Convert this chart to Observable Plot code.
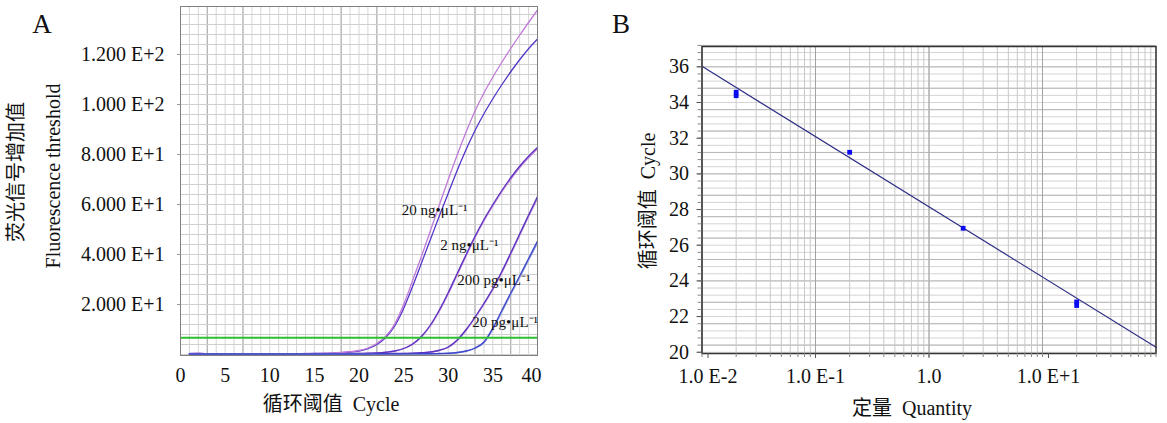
<!DOCTYPE html>
<html><head><meta charset="utf-8">
<script src="https://cdn.jsdelivr.net/npm/d3@7"></script>
<script src="https://cdn.jsdelivr.net/npm/@observablehq/plot@0.6"></script>
<style>
body{margin:0;background:#fff;}
#wrap{position:relative;width:1167px;height:423px;overflow:hidden;font-family:"Liberation Serif","Noto Sans CJK SC",serif;color:#111;}
#wrap svg{position:absolute;top:0;}
.t{position:absolute;white-space:pre;line-height:1;transform:translate(-50%,-50%);}
.r{position:absolute;white-space:pre;line-height:1;transform:translate(-50%,-50%) rotate(-90deg);}
</style></head><body><div id="wrap"></div>
<script>
// ---------- Panel A data ----------
const cycles = [1,2,3,4,5,6,7,8,9,10,11,12,13,14,15,16,17,18,19,20,21,22,23,24,25,26,27,28,29,30,31,32,33,34,35,36,37,38,39,40];
const ng20a = [0.4,0.5,0.3,0.3,0.2,0.2,0.2,0.2,0.2,0.3, 0.3,0.3,0.3,0.4,0.4,0.5,0.6,0.8,1.1,1.6, 2.6,4.4,7.3,12.2,20.0,29.5,39.3,49.5,59.8,70.0, 79.8,89.0,97.4,104.6,111.0,116.9,122.4,127.7,132.8,137.8];
const ng20b = [0.3,0.4,0.3,0.2,0.2,0.2,0.2,0.2,0.3,0.3, 0.3,0.3,0.3,0.3,0.4,0.4,0.5,0.7,1.0,1.4, 2.3,4.0,6.8,11.4,18.4,27.2,36.6,46.0,55.4,64.5, 73.6,82.0,89.6,96.3,102.3,107.9,113.1,117.9,122.3,126.2];
const ng2a  = [0.3,0.3,0.2,0.2,0.2,0.2,0.2,0.2,0.2,0.2, 0.2,0.2,0.2,0.3,0.3,0.3,0.3,0.3,0.4,0.4, 0.5,0.6,0.9,1.4,2.4,4.2,7.3,11.8,17.8,24.8, 32.4,40.0,47.3,54.0,60.0,65.6,70.7,75.3,79.3,82.8];
const ng2b  = [0.2,0.3,0.2,0.2,0.2,0.2,0.2,0.2,0.2,0.2, 0.2,0.2,0.2,0.2,0.3,0.3,0.3,0.3,0.3,0.4, 0.5,0.6,0.8,1.3,2.3,4.0,7.0,11.4,17.3,24.2, 31.8,39.4,46.7,53.4,59.4,65.0,70.1,74.7,78.7,82.2];
const pg200a= [0.2,0.2,0.2,0.2,0.2,0.2,0.2,0.2,0.2,0.2, 0.2,0.2,0.2,0.2,0.2,0.2,0.3,0.3,0.3,0.3, 0.3,0.3,0.3,0.4,0.4,0.5,0.7,1.0,1.7,3.0, 5.8,10.0,15.0,20.5,26.4,33.2,40.6,48.2,55.8,63.2];
const pg200b= [0.2,0.2,0.2,0.2,0.2,0.2,0.2,0.2,0.2,0.2, 0.2,0.2,0.2,0.2,0.2,0.2,0.2,0.3,0.3,0.3, 0.3,0.3,0.3,0.3,0.4,0.5,0.6,0.9,1.6,2.8, 5.5,9.6,14.6,20.0,25.9,32.6,40.0,47.6,55.1,62.4];
const pg20a = [0.2,0.2,0.2,0.2,0.2,0.2,0.2,0.2,0.2,0.2, 0.2,0.2,0.2,0.2,0.2,0.2,0.2,0.2,0.2,0.2, 0.2,0.3,0.3,0.3,0.3,0.3,0.3,0.3,0.4,0.5, 0.8,1.4,2.6,5.0,10.6,17.6,24.6,31.4,38.4,45.4];
const pg20b = [0.2,0.2,0.2,0.2,0.2,0.2,0.2,0.2,0.2,0.2, 0.2,0.2,0.2,0.2,0.2,0.2,0.2,0.2,0.2,0.2, 0.2,0.2,0.3,0.3,0.3,0.3,0.3,0.3,0.3,0.4, 0.7,1.3,2.4,4.7,10.0,17.0,24.0,30.8,37.7,44.6];
const seriesA = [
  {name:"20 ng b", values: ng20b, color:"#5535c8"},
  {name:"20 ng a", values: ng20a, color:"#c07ad8"},
  {name:"2 ng b", values: ng2b, color:"#c484dc"},
  {name:"2 ng a", values: ng2a, color:"#5a32c0"},
  {name:"200 pg b", values: pg200b, color:"#b88ad8"},
  {name:"200 pg a", values: pg200a, color:"#5a32c0"},
  {name:"20 pg b", values: pg20b, color:"#8c98e0"},
  {name:"20 pg a", values: pg20a, color:"#3f48c8"}
];
const thresholdValue = [6.7];
const aXTicks = [0,5,10,15,20,25,30,35,40];
const aYTicks = [20,40,60,80,100,120];
const aYLabels = ["2.000 E+1","4.000 E+1","6.000 E+1","8.000 E+1","1.000 E+2","1.200 E+2"];
const curveLabels = ["20 ng\u2022\u03bcL\u207b\u00b9","2 ng\u2022\u03bcL\u207b\u00b9","200 pg\u2022\u03bcL\u207b\u00b9","20 pg\u2022\u03bcL\u207b\u00b9"];
const curveLabelCycle = [24.8, 29.1, 31.0, 32.7];
const curveLabelValue = [56, 42, 28, 10.9];

// ---------- Panel B data ----------
const quantity = [0.02, 0.02, 0.2, 2, 20, 20];
const ctValue  = [34.38, 34.58, 31.21, 26.95, 22.62, 22.82];
const fitQuantity = [0.01, 100];
const fitCt = [36.03, 20.28];
const bXTicks = [0.01, 0.1, 1, 10];
const bXLabels = ["1.0 E-2", "1.0 E-1", "1.0", "1.0 E+1"];
const bYTicks = [20,22,24,26,28,30,32,34,36];

// ---------- build ----------
const font = "'Liberation Serif','Noto Sans CJK SC',serif";
const style = {fontFamily: font, fontSize: "20px", color: "#111", background: "transparent", overflow: "visible"};

const gridCyc = d3.range(0, 41);
const darkCyc = [3,7,18,22,33,37];
const gridVal = d3.range(0, 140, 4);

const lineMarks = seriesA.map(s => Plot.line(
  cycles.map((c, i) => ({cycle: c, value: s.values[i]})),
  {x: "cycle", y: "value", stroke: s.color, strokeWidth: 1.3, curve: "monotone-x"}
));

const labelData = curveLabels.map((t, i) => ({t, c: curveLabelCycle[i], v: curveLabelValue[i]}));

const plotA = Plot.plot({
  width: 580, height: 423,
  marginLeft: 180, marginRight: 43, marginTop: 6, marginBottom: 68,
  x: {domain: [0, 40]},
  y: {domain: [-0.4, 139.2]},
  style,
  marks: [
    Plot.gridX({ticks: gridCyc, stroke: "#d6d6d6", strokeOpacity: 1}),
    Plot.gridX({ticks: darkCyc, stroke: "#a8a8a8", strokeOpacity: 1}),
    Plot.gridY({ticks: gridVal, stroke: "#cfcfcf", strokeOpacity: 1}),
    ...lineMarks,
    Plot.ruleY(thresholdValue, {stroke: "#2ec02e", strokeWidth: 1.8}),
    Plot.frame({stroke: "#808080"}),
    Plot.axisY({ticks: aYTicks, tickFormat: d => aYLabels[aYTicks.indexOf(d)], tickSize: 3, tickPadding: 13, label: null, stroke: "#999"}),
    Plot.axisX({ticks: aXTicks.slice(0, -1), tickSize: 0, tickPadding: 12, label: null}),
    Plot.axisX({ticks: [40], tickSize: 0, tickPadding: 12, label: null, dx: -6}),
    Plot.text(labelData, {x: "c", y: "v", text: "t", textAnchor: "start", lineAnchor: "bottom", fontSize: 15, fill: "#111"})
  ]
});
plotA.style.left = "0px";

const logGrid = [];
[0.01, 0.1, 1, 10].forEach(d => { for (let k = 1; k <= 9; k++) logGrid.push(+(d * k).toPrecision(3)); });
logGrid.push(100);
const yGridB = d3.range(0, 44).map(k => +(20 + 0.4 * k).toFixed(2));
const yGridBDark = yGridB.filter((d, k) => k % 3 === 1);

const bPoints = quantity.map((q, i) => ({q, ct: ctValue[i]}));
const bFit = fitQuantity.map((q, i) => ({q, ct: fitCt[i]}));

const plotB = Plot.plot({
  width: 587, height: 423,
  marginLeft: 121.5, marginRight: 11.5, marginTop: 46, marginBottom: 70,
  x: {type: "log", domain: [0.01, 100]},
  y: {domain: [19.93, 37.14]},
  style,
  marks: [
    Plot.gridY({ticks: yGridB, stroke: "#d4d4d4", strokeOpacity: 1}),
    Plot.gridY({ticks: yGridBDark, stroke: "#b8b8b8", strokeOpacity: 1}),
    Plot.gridX({ticks: logGrid, stroke: "#c8c8c8", strokeOpacity: 1}),
    Plot.gridX({ticks: bXTicks, stroke: "#a2a2a2", strokeOpacity: 1}),
    Plot.line(bFit, {x: "q", y: "ct", stroke: "#2e2e86", strokeWidth: 1.2}),
    Plot.dot(bPoints, {x: "q", y: "ct", symbol: "square", r: 2.7, fill: "#0a0af0", stroke: null}),
    Plot.frame({stroke: "#333", strokeWidth: 1.5}),
    Plot.axisY({ticks: yGridB, tickSize: 4, tickFormat: () => "", label: null, stroke: "#888"}),
    Plot.axisY({ticks: bYTicks, tickSize: 5, tickPadding: 8, label: null, stroke: "#555"}),
    Plot.axisX({ticks: logGrid, tickSize: 4, tickFormat: () => "", label: null, stroke: "#888"}),
    Plot.axisX({ticks: [0.01, 10], tickSize: 5, tickPadding: 10.5, tickFormat: d => bXLabels[bXTicks.indexOf(d)], label: null, dx: 6, stroke: "#555"}),
    Plot.axisX({ticks: [0.1, 1], tickSize: 5, tickPadding: 10.5, tickFormat: d => bXLabels[bXTicks.indexOf(d)], label: null, stroke: "#555"})
  ]
});
plotB.style.left = "580px";

const wrap = document.getElementById("wrap");
wrap.appendChild(plotA);
wrap.appendChild(plotB);

function addText(txt, x, y, size, rotate) {
  const d = document.createElement("div");
  d.className = rotate ? "r" : "t";
  d.textContent = txt;
  d.style.left = x + "px";
  d.style.top = y + "px";
  d.style.fontSize = size + "px";
  wrap.appendChild(d);
}
addText("A", 42, 24, 27, false);
addText("B", 621, 24, 27, false);
addText("荧光信号增加值", 16, 172, 20, true);
addText("Fluorescence threshold", 53, 176, 20, true);
addText("循环阈值  Cycle", 331, 404, 20, false);
addText("循环阈值  Cycle", 648, 201, 20, true);
addText("定量  Quantity", 912, 408, 20, false);
</script></body></html>
